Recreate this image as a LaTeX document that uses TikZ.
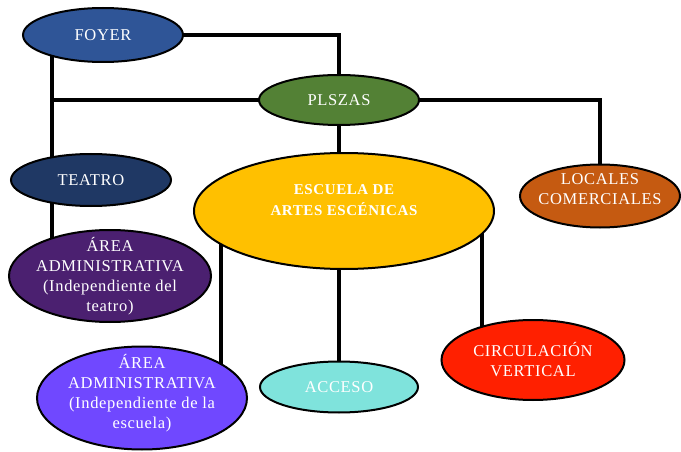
\documentclass[tikz,border=0pt]{standalone}
\usepackage{fontspec}
\setmainfont{Liberation Serif}[LetterSpace=4]
\usetikzlibrary{shapes.geometric,backgrounds}
\definecolor{cfoyer}{HTML}{2F5597}
\definecolor{cplazas}{HTML}{538135}
\definecolor{cteatro}{HTML}{1F3864}
\definecolor{cescuela}{HTML}{FFC000}
\definecolor{clocales}{HTML}{C55A11}
\definecolor{careaone}{HTML}{4B2070}
\definecolor{careatwo}{HTML}{7048FF}
\definecolor{cacceso}{HTML}{7FE3DC}
\definecolor{ccirc}{HTML}{FF2000}
\newcommand{\lowpad}[1]{\rule[-#1pt]{0pt}{0pt}}
\tikzset{
  oval/.style={ellipse, draw=black, line width=2pt, inner sep=-20pt, align=center,
    text=white, font=\fontsize{16.5}{20}\selectfont},
  link/.style={draw=black, line width=3.5pt}
}
\begin{document}
\begin{tikzpicture}[x=1pt,y=-1pt]
\useasboundingbox (0,0) rectangle (681,452);
\node[oval, fill=cfoyer, minimum width=160, minimum height=54] (foyer) at (103,35) {FOYER};
\node[oval, fill=cplazas, minimum width=160, minimum height=50] (plazas) at (339,100) {PLSZAS};
\node[oval, fill=cteatro, minimum width=160, minimum height=52] (teatro) at (91,180) {TEATRO};
\node[oval, fill=cescuela, minimum width=300, minimum height=116, font=\bfseries\fontsize{15}{21}\selectfont] (escuela) at (344,211) {ESCUELA DE\\ARTES ESCÉNICAS\lowpad{22}};
\node[oval, fill=clocales, minimum width=160, minimum height=63] (locales) at (600,196) {LOCALES\\COMERCIALES\lowpad{14}};
\node[oval, fill=careaone, minimum width=202, minimum height=92] (areaone) at (110,276) {ÁREA\\ADMINISTRATIVA\\(Independiente del\\teatro)};
\node[oval, fill=careatwo, minimum width=210, minimum height=103] (areatwo) at (142,398) {ÁREA\\ADMINISTRATIVA\\(Independiente de la\\escuela)\lowpad{14}};
\node[oval, fill=cacceso, minimum width=158, minimum height=51] (acceso) at (339,387) {ACCESO};
\node[oval, fill=ccirc, minimum width=183, minimum height=80] (circ) at (533,360) {CIRCULACIÓN\\VERTICAL};
\coordinate (trunk) at (52,35);
\coordinate (leftdrop) at (221,250);
\coordinate (rightdrop) at (482,230);
\begin{scope}[on background layer]
\fill[white] (0,0) rectangle (681,452);
\draw[link] (foyer.center) -| (plazas.center);
\draw[link] (foyer.center -| trunk) -- (teatro.center -| trunk);
\draw[link] (teatro.center -| trunk) -- (areaone.center -| trunk);
\draw[link] (plazas.center -| trunk) -- (plazas.center);
\draw[link] (plazas.center) -| (locales.center);
\draw[link] (plazas.center) -- (plazas.center |- escuela.center);
\draw[link] (escuela.center -| leftdrop) -- (areatwo.center -| leftdrop);
\draw[link] (escuela.center -| acceso.center) -- (acceso.center);
\draw[link] (escuela.center -| rightdrop) -- (circ.center -| rightdrop);
\end{scope}
\end{tikzpicture}
\end{document}
